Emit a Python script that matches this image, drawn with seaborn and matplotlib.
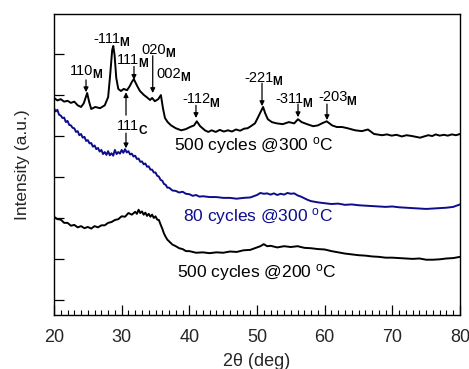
import numpy as np
import pandas as pd
import matplotlib
matplotlib.use("Agg")
import matplotlib.pyplot as plt
from matplotlib.ticker import MultipleLocator
import seaborn as sns

# ---- XRD patterns (2theta in degrees, intensity in arbitrary units, offset stacked) ----
tt_500_300 = [20.0, 20.5, 21.0, 21.5, 22.0, 22.5, 23.0, 23.5, 24.0, 24.4, 24.9, 25.2,
              25.5, 26.1, 26.8, 27.5, 28.0, 28.3, 28.6, 28.76, 28.95, 29.2, 29.5, 29.9,
              30.3, 30.8, 31.2, 31.5, 31.8, 32.3, 32.7, 33.3, 33.7, 34.2, 34.5, 34.9,
              35.4, 35.8, 36.1, 36.4, 36.8, 37.3, 38.0, 38.8, 39.5, 40.1, 40.7, 41.1,
              41.6, 42.3, 42.8, 43.3, 43.9, 44.5, 45.1, 45.7, 46.3, 46.9, 47.5, 48.1,
              48.6, 49.0, 49.7, 50.1, 50.6, 50.9, 51.2, 51.6, 52.2, 52.9, 53.8, 54.7,
              55.5, 56.06, 56.6, 57.4, 58.3, 59.0, 59.6, 60.3, 61.1, 61.8, 62.6, 63.4,
              64.5, 65.5, 66.4, 67.3, 68.5, 69.2, 69.9, 70.6, 71.4, 72.1, 72.9, 73.5,
              74.1, 74.7, 75.3, 75.9, 76.4, 77.0, 77.6, 78.2, 78.8, 79.4, 80.0]
int_500_300 = [4.93, 4.87, 4.90, 4.84, 4.86, 4.81, 4.84, 4.75, 4.71, 4.80, 5.05, 4.83,
               4.66, 4.71, 4.68, 4.75, 4.95, 5.49, 6.10, 6.20, 5.98, 5.42, 5.15, 5.10,
               5.15, 5.12, 5.22, 5.32, 5.39, 5.22, 5.10, 5.00, 4.95, 4.88, 4.93, 4.85,
               4.90, 5.00, 4.68, 4.44, 4.34, 4.26, 4.19, 4.14, 4.17, 4.22, 4.26, 4.36,
               4.24, 4.14, 4.10, 4.14, 4.10, 4.15, 4.11, 4.14, 4.11, 4.16, 4.13, 4.18,
               4.19, 4.23, 4.31, 4.44, 4.61, 4.71, 4.56, 4.41, 4.34, 4.31, 4.29, 4.34,
               4.31, 4.41, 4.34, 4.29, 4.24, 4.26, 4.31, 4.36, 4.26, 4.22, 4.22, 4.19,
               4.14, 4.12, 4.16, 4.05, 4.02, 4.04, 4.01, 4.03, 3.99, 4.02, 4.00, 3.98,
               3.96, 3.99, 4.02, 4.00, 4.04, 4.01, 4.03, 4.01, 4.04, 4.02, 4.05]

tt_80_300 = [20.0, 20.25, 20.5, 20.75, 21.0, 21.25, 21.5, 21.75, 22.0, 22.25, 22.5, 22.75,
             23.0, 23.25, 23.5, 23.75, 24.0, 24.25, 24.5, 24.75, 25.0, 25.25, 25.5, 25.75,
             26.0, 26.25, 26.5, 26.75, 27.0, 27.25, 27.5, 27.75, 28.0, 28.25, 28.5, 28.75,
             29.0, 29.25, 29.5, 29.75, 30.0, 30.25, 30.5, 30.75, 31.0, 31.25, 31.5, 31.75,
             32.0, 32.25, 32.5, 32.75, 33.0, 33.25, 33.5, 33.75, 34.0, 34.25, 34.5, 34.75,
             35.0, 35.25, 35.5, 35.75, 36.0, 36.25, 36.5, 36.75, 37.0, 37.5, 38.0, 38.5,
             39.0, 39.5, 40.0, 40.5, 41.0, 41.5, 42.0, 43.0, 44.0, 45.0, 46.0, 47.0,
             48.0, 49.0, 49.5, 50.0, 50.5, 51.0, 51.5, 52.0, 52.5, 53.0, 53.5, 54.0,
             54.5, 55.0, 55.5, 56.0, 56.5, 57.0, 57.5, 58.0, 59.0, 60.0, 61.0, 62.0,
             63.0, 64.0, 65.0, 66.0, 67.0, 68.0, 69.0, 70.0, 71.0, 72.0, 73.0, 74.0,
             75.0, 76.0, 77.0, 78.0, 79.0, 80.0]
int_80_300 = [4.68, 4.60, 4.64, 4.52, 4.50, 4.44, 4.45, 4.34, 4.37, 4.27, 4.26, 4.20,
              4.19, 4.10, 4.12, 4.02, 4.05, 3.96, 3.98, 3.88, 3.90, 3.82, 3.83, 3.74,
              3.77, 3.68, 3.71, 3.62, 3.66, 3.56, 3.61, 3.54, 3.63, 3.53, 3.58, 3.52,
              3.66, 3.56, 3.61, 3.57, 3.66, 3.59, 3.68, 3.60, 3.63, 3.55, 3.57, 3.50,
              3.52, 3.44, 3.45, 3.37, 3.38, 3.31, 3.33, 3.25, 3.26, 3.18, 3.18, 3.11,
              3.11, 3.03, 3.01, 2.93, 2.91, 2.83, 2.81, 2.74, 2.74, 2.67, 2.66, 2.62,
              2.64, 2.59, 2.58, 2.54, 2.56, 2.52, 2.53, 2.51, 2.51, 2.49, 2.49, 2.47,
              2.49, 2.50, 2.53, 2.56, 2.61, 2.59, 2.60, 2.57, 2.60, 2.56, 2.59, 2.57,
              2.61, 2.59, 2.60, 2.55, 2.52, 2.48, 2.44, 2.41, 2.38, 2.36, 2.34, 2.35,
              2.32, 2.33, 2.31, 2.30, 2.29, 2.28, 2.27, 2.28, 2.26, 2.25, 2.24, 2.23,
              2.22, 2.23, 2.24, 2.25, 2.27, 2.33]

tt_500_200 = [20.0, 20.5, 21.0, 21.5, 22.0, 22.5, 23.0, 23.5, 24.0, 24.5, 25.0, 25.5,
              26.0, 26.5, 27.0, 27.5, 28.0, 28.5, 29.0, 29.5, 30.0, 30.5, 31.0, 31.5,
              32.0, 32.25, 32.5, 32.75, 33.0, 33.25, 33.5, 33.75, 34.0, 34.25, 34.5, 34.75,
              35.0, 35.25, 35.5, 35.75, 36.0, 36.25, 36.5, 36.75, 37.0, 37.5, 38.0, 38.5,
              39.0, 39.5, 40.0, 41.0, 42.0, 43.0, 44.0, 45.0, 46.0, 47.0, 48.0, 49.0,
              50.0, 50.5, 51.0, 51.5, 52.0, 53.0, 54.0, 55.0, 56.0, 57.0, 58.0, 59.0,
              60.0, 61.0, 62.0, 63.0, 64.0, 65.0, 66.0, 67.0, 68.0, 69.0, 70.0, 71.0,
              72.0, 73.0, 74.0, 75.0, 76.0, 77.0, 78.0, 79.0, 80.0]
int_500_200 = [2.03, 1.97, 1.96, 1.88, 1.88, 1.81, 1.83, 1.77, 1.80, 1.75, 1.78, 1.74,
               1.80, 1.77, 1.82, 1.82, 1.88, 1.90, 1.95, 1.97, 2.04, 2.03, 2.12, 2.08,
               2.15, 2.10, 2.20, 2.12, 2.16, 2.08, 2.13, 2.05, 2.10, 2.03, 2.08, 2.00,
               2.04, 1.96, 1.95, 1.84, 1.74, 1.62, 1.54, 1.47, 1.43, 1.35, 1.31, 1.26,
               1.24, 1.19, 1.19, 1.15, 1.16, 1.14, 1.16, 1.15, 1.18, 1.17, 1.21, 1.22,
               1.28, 1.31, 1.36, 1.31, 1.32, 1.28, 1.31, 1.29, 1.31, 1.27, 1.26, 1.24,
               1.23, 1.19, 1.16, 1.13, 1.11, 1.09, 1.08, 1.06, 1.05, 1.03, 1.03, 1.02,
               1.01, 1.00, 1.01, 0.98, 0.98, 0.99, 1.01, 1.02, 1.05]

x_ticks = [20, 30, 40, 50, 60, 70, 80]

# Reflection labels: (index, phase, text x, text y, arrow start/end or None)
peak_labels = [
    ("110", "M", 22.36, 5.49, (24.73, 5.37, 24.73, 5.07)),
    ("-111", "M", 25.76, 6.27, None),
    ("111", "M", 29.30, 5.76, (31.82, 5.70, 31.82, 5.37)),
    ("020", "M", 32.86, 6.01, (34.59, 5.96, 34.59, 5.05)),
    ("002", "M", 35.07, 5.42, None),
    ("111", "C", 29.31, 4.14, None),
    ("-112", "M", 38.92, 4.80, (40.98, 4.75, 40.98, 4.44)),
    ("-221", "M", 48.08, 5.32, (50.74, 5.29, 50.74, 4.73)),
    ("-311", "M", 52.66, 4.80, (56.06, 4.78, 56.06, 4.46)),
    ("-203", "M", 59.01, 4.85, (60.34, 4.78, 60.34, 4.39)),
]
# double arrow for the cubic reflection
cubic_arrows = [(30.64, 4.51, 30.64, 5.07), (30.64, 4.07, 30.64, 3.70)]

navy = "#0d0d8c"
series = [
    ("500 cycles @300 $^{\\mathrm{o}}$C", tt_500_300, int_500_300, "black", 37.73, 3.65),
    ("80 cycles @300 $^{\\mathrm{o}}$C", tt_80_300, int_80_300, navy, 39.06, 1.91),
    ("500 cycles @200 $^{\\mathrm{o}}$C", tt_500_200, int_500_200, "black", 38.18, 0.54),
]

sns.set_theme(style="white")
plt.rcParams["font.family"] = ["Liberation Sans", "DejaVu Sans"]
plt.rcParams["mathtext.fontset"] = "custom"
plt.rcParams["mathtext.rm"] = "Liberation Sans"
plt.rcParams["mathtext.bf"] = "Liberation Sans:bold"
plt.rcParams["mathtext.it"] = "Liberation Sans:italic"

fig = plt.figure(figsize=(4.69, 3.69), dpi=100)
ax = fig.add_axes([54 / 469, 1 - 315 / 369, 406 / 469, 301 / 369])

for label, xs, ys, col, lx, ly in series:
    df = pd.DataFrame({"tt": xs, "I": ys})
    sns.lineplot(data=df, x="tt", y="I", color=col, lw=1.4, ax=ax)
    ax.text(lx, ly, label, color=col, fontsize=12.5, ha="left", va="baseline")

arrow_kw = dict(arrowstyle="-|>", color="black", lw=0.9, mutation_scale=7,
                shrinkA=0, shrinkB=0)
for idx, phase, tx, ty, arr in peak_labels:
    t = ax.text(tx, ty, idx, fontsize=10.5, ha="left", va="baseline", color="black")
    # bold phase letter as a lowered subscript right after the Miller index
    ax.annotate(phase, xy=(1, 0), xycoords=t, xytext=(-0.6, -0.3),
                textcoords="offset points", fontsize=8.6, fontweight="bold",
                ha="left", va="baseline", color="black")
    if arr is not None:
        x0, y0, x1, y1 = arr
        ax.annotate("", xy=(x1, y1), xytext=(x0, y0), arrowprops=arrow_kw)
for x0, y0, x1, y1 in cubic_arrows:
    ax.annotate("", xy=(x1, y1), xytext=(x0, y0), arrowprops=arrow_kw)

ax.set_xlim(20, 80)
ax.set_ylim(-0.37, 6.98)
ax.set_xticks(x_ticks)
ax.xaxis.set_minor_locator(MultipleLocator(1))
ax.yaxis.set_major_locator(MultipleLocator(1))
ax.set_yticklabels([])
ax.tick_params(axis="both", which="major", direction="in", length=7.5, width=0.9,
               color="black", labelsize=13, pad=10, top=False, right=False,
               bottom=True, left=True)
ax.tick_params(axis="x", which="minor", direction="in", length=3.8, width=0.8,
               color="black", top=False, bottom=True)
for sp in ax.spines.values():
    sp.set_color("black")
    sp.set_linewidth(1.0)

ax.set_xlabel("2\u03b8 (deg)", fontsize=13, labelpad=5)
ax.set_ylabel("Intensity (a.u.)", fontsize=12.5, labelpad=7)

fig.savefig("out.png", dpi=100)
